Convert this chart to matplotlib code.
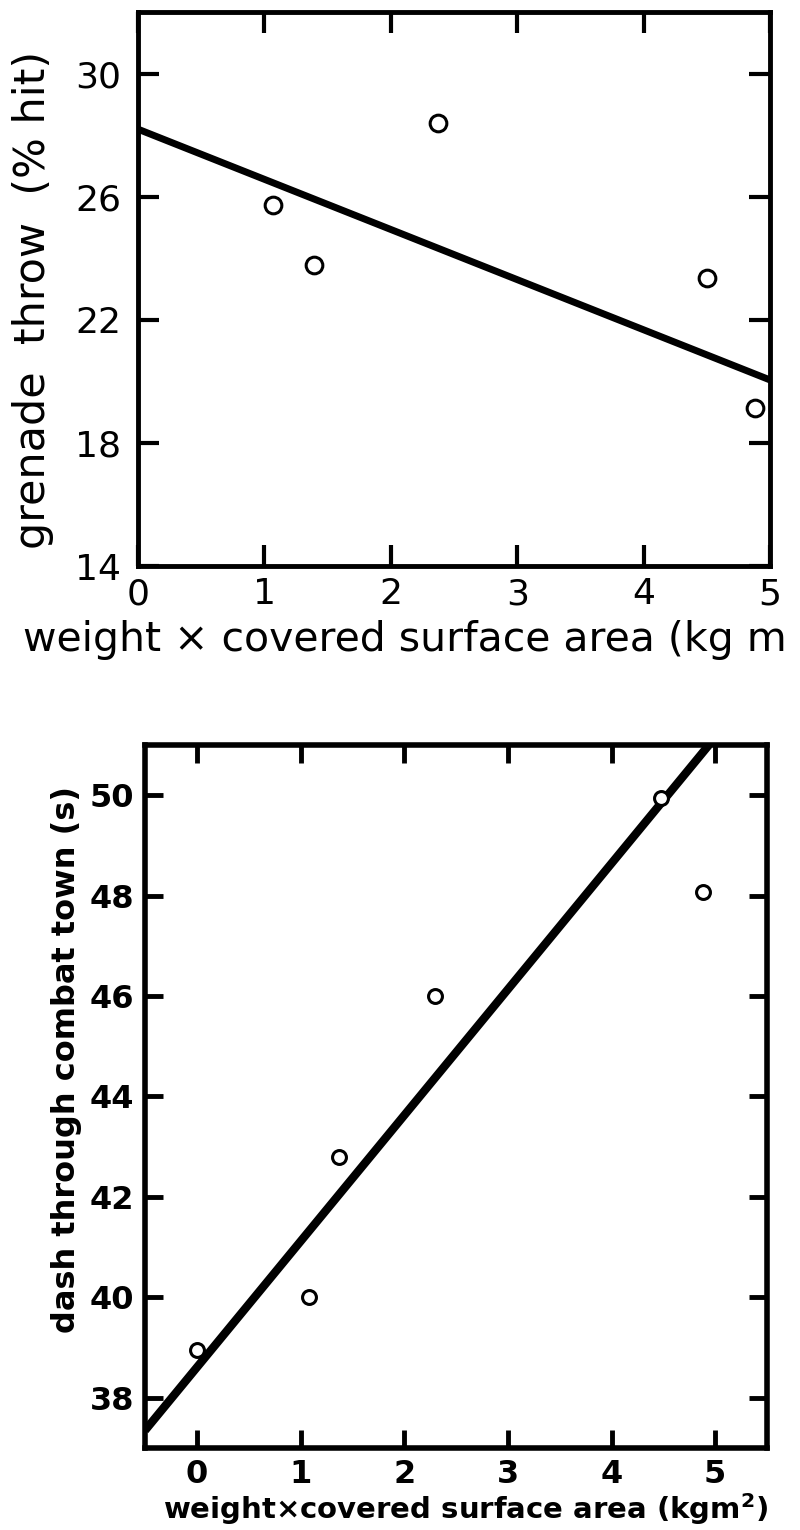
import matplotlib
matplotlib.use('Agg')
import matplotlib.pyplot as plt

# top panel: grenade throw
grenade_x = [1.07, 1.39, 2.37, 4.5, 4.88]
grenade_y = [25.75, 23.8, 28.4, 23.35, 19.15]
grenade_fit_x = [0, 5]
grenade_fit_y = [28.2, 20.05]
grenade_xticks = [0, 1, 2, 3, 4, 5]
grenade_yticks = [14, 18, 22, 26, 30]

# bottom panel: dash through combat town
dash_x = [0.0, 1.08, 1.37, 2.3, 4.48, 4.88]
dash_y = [38.96, 40.0, 42.8, 46.0, 49.94, 48.08]
dash_fit_x = [-0.5, 4.94]
dash_fit_y = [37.35, 51.0]
dash_xticks = [0, 1, 2, 3, 4, 5]
dash_yticks = [38, 40, 42, 44, 46, 48, 50]

fig = plt.figure(figsize=(8, 15.3), dpi=100)

# ---- top ----
ax1 = fig.add_axes([0.1725, 0.630, 0.79, 0.362])
ax1.plot(grenade_fit_x, grenade_fit_y, color='black', lw=5, solid_capstyle='butt')
ax1.plot(grenade_x, grenade_y, 'o', ms=12, mfc='white', mec='black', mew=2.2)
ax1.set_xlim(0, 5)
ax1.set_ylim(14, 32)
ax1.set_xticks(grenade_xticks)
ax1.set_yticks(grenade_yticks)
ax1.tick_params(direction='in', length=15, width=3, top=True, right=True,
                labelsize=26)
ax1.tick_params(axis='x', pad=8)
ax1.tick_params(axis='y', pad=12)
for s in ax1.spines.values():
    s.set_linewidth(3.5)
# the scan cuts the unit off at the right edge
ax1.set_xlabel('weight \u00d7 covered surface area (kg m', fontsize=29.5,
               ha='left', va='center')
ax1.xaxis.set_label_coords(-0.182, -0.134)
ax1.set_ylabel('grenade  throw  (% hit)', fontsize=31, va='center')
ax1.yaxis.set_label_coords(-0.166, 0.48)

# ---- bottom ----
ax2 = fig.add_axes([0.18125, 0.0536, 0.7775, 0.4595])
ax2.plot(dash_fit_x, dash_fit_y, color='black', lw=6, solid_capstyle='butt')
ax2.plot(dash_x, dash_y, 'o', ms=10, mfc='white', mec='black', mew=2.2)
ax2.set_xlim(-0.5, 5.5)
ax2.set_ylim(37, 51)
ax2.set_xticks(dash_xticks)
ax2.set_yticks(dash_yticks)
ax2.tick_params(direction='in', length=13, width=3.5, top=True, right=True,
                labelsize=23, pad=8)
for lab in ax2.get_xticklabels() + ax2.get_yticklabels():
    lab.set_fontweight('bold')
for s in ax2.spines.values():
    s.set_linewidth(4)
ax2.set_xlabel('weight\u00d7covered surface area (kgm$^\\mathbf{2}$)', fontsize=21,
               fontweight='bold', va='center')
ax2.xaxis.set_label_coords(0.516, -0.087)
ax2.set_ylabel('dash through combat town (s)', fontsize=23, fontweight='bold',
               va='center')
ax2.yaxis.set_label_coords(-0.127, 0.552)

fig.savefig('out.png', dpi=100)
